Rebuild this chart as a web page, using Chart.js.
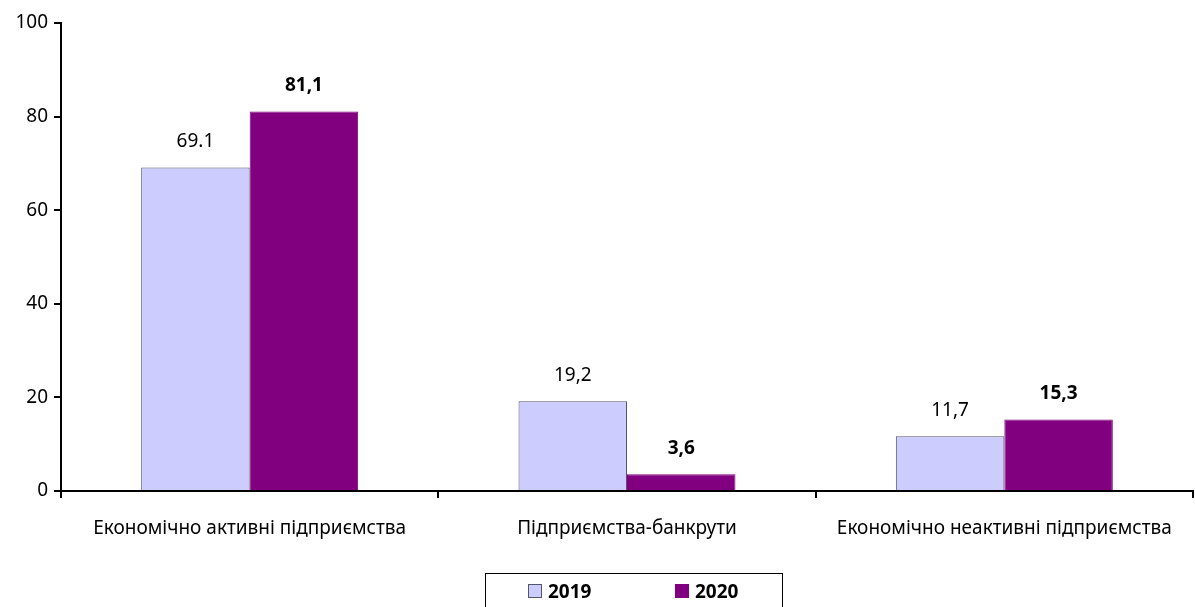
<!DOCTYPE html>
<html>
<head>
<meta charset="utf-8">
<script src="https://cdn.jsdelivr.net/npm/chart.js@4"></script>
<style>
  html, body { margin: 0; padding: 0; background: #fff; }
  #wrap { position: relative; width: 1195px; height: 607px; }
  #legend {
    position: absolute; left: 485px; top: 573px; width: 298px; height: 40px;
    border: 1px solid #000; box-sizing: border-box;
    font: bold 19px "Noto Sans", sans-serif; color: #000;
  }
  .item { position: absolute; top: 4px; display: flex; align-items: center; }
  .sw { width: 14px; height: 14px; margin-right: 6px; box-sizing: border-box; }
</style>
</head>
<body>
<div id="wrap">
  <canvas id="chart" width="1195" height="607"></canvas>
  <div id="legend"></div>
</div>
<script>
// chart data
const categories = ['Економічно активні підприємства', 'Підприємства-банкрути', 'Економічно неактивні підприємства'];
const seriesNames = ['2019', '2020'];
const values2019 = [69.1, 19.2, 11.7];
const values2020 = [81.1, 3.6, 15.3];
const labels2019 = ['69.1', '19,2', '11,7'];
const labels2020 = ['81,1', '3,6', '15,3'];
const yTicks = [0, 20, 40, 60, 80, 100];

const FONT = '"Noto Sans", sans-serif';

// draws the value above each bar
const barLabels = {
  id: 'barLabels',
  afterDatasetsDraw(chart) {
    const ctx = chart.ctx;
    ctx.save();
    ctx.fillStyle = '#000';
    ctx.textAlign = 'center';
    ctx.textBaseline = 'middle';
    chart.data.datasets.forEach((ds, i) => {
      const meta = chart.getDatasetMeta(i);
      ctx.font = (i === 1 ? 'bold ' : '') + '19px ' + FONT;
      meta.data.forEach((bar, j) => {
        ctx.fillText(ds.valueLabels[j], bar.x, bar.y - 26);
      });
    });
    ctx.restore();
  }
};

const chart = new Chart(document.getElementById('chart'), {
  type: 'bar',
  data: {
    labels: categories,
    datasets: [
      {
        label: seriesNames[0], data: values2019, valueLabels: labels2019,
        backgroundColor: '#ccccff', borderColor: '#55556a', borderWidth: 1,
        categoryPercentage: 0.575, barPercentage: 1
      },
      {
        label: seriesNames[1], data: values2020, valueLabels: labels2020,
        backgroundColor: '#800080', borderColor: '#800080', borderWidth: 1,
        categoryPercentage: 0.575, barPercentage: 1
      }
    ]
  },
  options: {
    responsive: false,
    animation: false,
    layout: { padding: { left: 0, top: 23, right: 2, bottom: 66 } },
    plugins: { legend: { display: false }, tooltip: { enabled: false } },
    scales: {
      x: {
        grid: { display: true, drawOnChartArea: false, offset: true, color: '#000', lineWidth: 2, tickLength: 7 },
        border: { color: '#000', width: 2 },
        ticks: { color: '#000', font: { family: FONT, size: 19 }, padding: 19, maxRotation: 0 },
        afterFit(scale) { scale.height = 50; }
      },
      y: {
        min: 0, max: 100,
        afterBuildTicks(scale) { scale.ticks = yTicks.map(v => ({ value: v })); },
        grid: { drawOnChartArea: false, color: '#000', lineWidth: 2, tickLength: 7 },
        border: { color: '#000', width: 2 },
        ticks: { color: '#000', font: { family: FONT, size: 19 }, padding: 6 },
        afterFit(scale) { scale.width = 61; }
      }
    }
  },
  plugins: [barLabels]
});

// legend
const legend = document.getElementById('legend');
const swatchLeft = [42, 189];
chart.data.datasets.forEach((ds, i) => {
  const item = document.createElement('div');
  item.className = 'item';
  item.style.left = swatchLeft[i] + 'px';
  item.innerHTML = `<span class="sw" style="background:${ds.backgroundColor};border:1px solid ${ds.borderColor}"></span>${ds.label}`;
  legend.appendChild(item);
});
</script>
</body>
</html>
